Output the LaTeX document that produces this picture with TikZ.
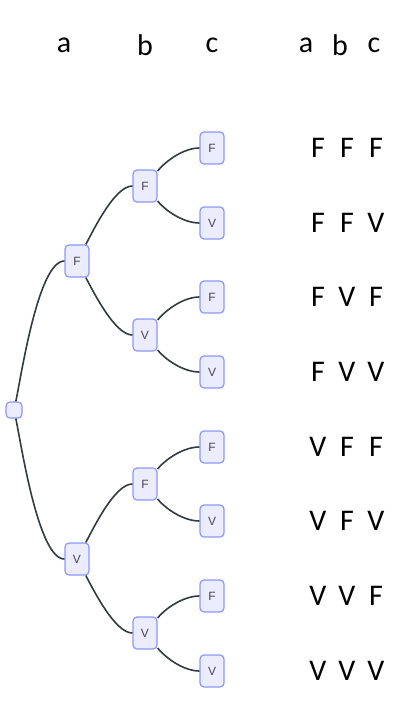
\documentclass[tikz,border=0pt]{standalone}
\usepackage{fontspec}
\setmainfont{Carlito}
\newfontfamily\nodefont{Liberation Sans}
\definecolor{mmfill}{RGB}{236,236,255}
\definecolor{mmline}{RGB}{140,150,255}
\definecolor{mmedge}{RGB}{51,58,64}
\definecolor{mmtext}{RGB}{70,70,80}
\usetikzlibrary{positioning}

\begin{document}
\begin{tikzpicture}[
  x=1pt,y=1pt,
  tnode/.style={draw=mmline,fill=mmfill,rounded corners=4pt,line width=1.2pt,
    minimum width=24pt,minimum height=32pt,inner sep=0pt,
    font=\nodefont\fontsize{12}{14}\selectfont,text=mmtext},
  edge/.style={draw=mmedge,line width=1.6pt},
  head/.style={font=\fontsize{30}{34}\selectfont},
  val/.style={font=\fontsize{30}{34}\selectfont}
]
  \useasboundingbox (0,0) rectangle (407,-707);
  % column headings
  \node[head] (ha) at (64,-45) {a};
  \node[head] (hb) at (145,-45) {b};
  \node[head] (hc) at (212,-45) {c};
  \node[head] (ta) at (306,-45) {a};
  \node[head] (tb) at (340,-45) {b};
  \node[head] (tc) at (374,-45) {c};

  % tree
  \node[tnode,minimum width=16pt,minimum height=16pt] (r) at (14,-410) {};
  \node[tnode] (aF) at (77,-261) {F};
  \node[tnode] (aV) at (77,-559) {V};
  \node[tnode] (bFF) at (145,-186) {F};
  \node[tnode] (bFV) at (145,-335) {V};
  \node[tnode] (bVF) at (145,-484) {F};
  \node[tnode] (bVV) at (145,-633) {V};
  \node[tnode] (cFFF) at (212,-148) {F};
  \node[tnode] (cFFV) at (212,-223) {V};
  \node[tnode] (cFVF) at (212,-297) {F};
  \node[tnode] (cFVV) at (212,-372) {V};
  \node[tnode] (cVFF) at (212,-447) {F};
  \node[tnode] (cVFV) at (212,-521) {V};
  \node[tnode] (cVVF) at (212,-596) {F};
  \node[tnode] (cVVV) at (212,-671) {V};

  \draw[edge] (r) to[out=78,in=180,looseness=0.45] (aF.west);
  \draw[edge] (r) to[out=-78,in=180,looseness=0.45] (aV.west);
  \draw[edge] (aF) to[out=62,in=180,looseness=0.6] (bFF.west);
  \draw[edge] (aF) to[out=-62,in=180,looseness=0.6] (bFV.west);
  \draw[edge] (aV) to[out=62,in=180,looseness=0.6] (bVF.west);
  \draw[edge] (aV) to[out=-62,in=180,looseness=0.6] (bVV.west);
  \draw[edge] (bFF) to[out=50,in=180,looseness=0.8] (cFFF.west);
  \draw[edge] (bFF) to[out=-50,in=180,looseness=0.8] (cFFV.west);
  \draw[edge] (bFV) to[out=50,in=180,looseness=0.8] (cFVF.west);
  \draw[edge] (bFV) to[out=-50,in=180,looseness=0.8] (cFVV.west);
  \draw[edge] (bVF) to[out=50,in=180,looseness=0.8] (cVFF.west);
  \draw[edge] (bVF) to[out=-50,in=180,looseness=0.8] (cVFV.west);
  \draw[edge] (bVV) to[out=50,in=180,looseness=0.8] (cVVF.west);
  \draw[edge] (bVV) to[out=-50,in=180,looseness=0.8] (cVVV.west);

  % truth table rows
  \foreach \y/\p/\q/\s [count=\i] in {148/F/F/F,223/F/F/V,297/F/V/F,372/F/V/V,
      447/V/F/F,521/V/F/V,596/V/V/F,671/V/V/V} {
    \node[val] (ra\i) at (318,-\y) {\p};
    \node[val] (rb\i) at (347,-\y) {\q};
    \node[val] (rc\i) at (376,-\y) {\s};
  }
\end{tikzpicture}
\end{document}
